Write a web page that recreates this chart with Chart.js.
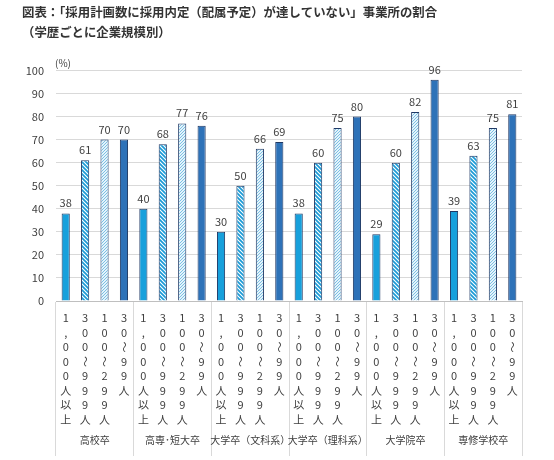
<!DOCTYPE html>
<html lang="ja">
<head>
<meta charset="utf-8">
<script src="https://cdn.jsdelivr.net/npm/chart.js@4.4.1/dist/chart.umd.min.js"></script>
<style>
html,body{margin:0;padding:0;background:#fff;}
#wrap{width:554px;height:460px;position:relative;}
</style>
</head>
<body>
<div id="wrap"><canvas id="c"></canvas></div>
<script>
const TITLE_LINES = ['図表：「採用計画数に採用内定（配属予定）が達していない」事業所の割合', '（学歴ごとに企業規模別）'];
const GROUPS = ['高校卒', '高専･短大卒', '大学卒（文科系）', '大学卒（理科系）', '大学院卒', '専修学校卒'];
const SIZE_LABELS = ['1,000人以上', '300～999人', '100～299人', '30～99人'];
const V_1000 = [38, 40, 30, 38, 29, 39];
const V_300  = [61, 68, 50, 60, 60, 63];
const V_100  = [70, 77, 66, 75, 82, 75];
const V_30   = [70, 76, 69, 80, 96, 81];
const UNIT = '(%)';

const FONT = '"Noto Sans CJK JP", "Noto Sans", sans-serif';
const TXT = '#404040';
const EDGE = '#1f3864';

// striped fills for the two middle series
function stripes(fg, bg, size, lw, down) {
  const c = document.createElement('canvas');
  c.width = c.height = size;
  const g = c.getContext('2d');
  g.fillStyle = bg; g.fillRect(0, 0, size, size);
  g.strokeStyle = fg; g.lineWidth = lw;
  g.beginPath();
  for (let k = -1; k <= 2; k++) {
    if (down) { g.moveTo(k*size-2, -2); g.lineTo(k*size+size+2, size+2); }
    else      { g.moveTo(k*size+2, -2); g.lineTo(k*size-size-2, size+2); }
  }
  g.stroke();
  return g.createPattern(c, 'repeat');
}

const labelPlugin = {
  id: 'barLabels',
  afterDatasetsDraw(chart) {
    const ctx = chart.ctx, area = chart.chartArea;
    ctx.save();
    ctx.fillStyle = TXT;
    ctx.textAlign = 'center';
    chart.data.datasets.forEach((ds, di) => {
      const meta = chart.getDatasetMeta(di);
      meta.data.forEach((bar, i) => {
        ctx.font = '11px ' + FONT;
        ctx.textBaseline = 'alphabetic';
        ctx.fillText(ds.data[i], bar.x, bar.y - 6);
        ctx.textBaseline = 'middle';
        [...SIZE_LABELS[di]].forEach((ch, k) => {
          const y = area.bottom + 17 + k*14.5;
          if (ch === '～') {
            ctx.save(); ctx.translate(bar.x, y); ctx.rotate(Math.PI/2);
            ctx.fillText(ch, 0, 0); ctx.restore();
          } else {
            ctx.fillText(ch, bar.x, y);
          }
        });
      });
    });
    ctx.font = '10px ' + FONT;
    ctx.textAlign = 'left';
    ctx.textBaseline = 'middle';
    ctx.fillText(UNIT, area.left - 1, area.top - 7);
    ctx.restore();
  }
};

const ctx = document.getElementById('c');
new Chart(ctx, {
  type: 'bar',
  data: {
    labels: GROUPS,
    datasets: [
      { label: SIZE_LABELS[0], data: V_1000, backgroundColor: '#17a0dc' },
      { label: SIZE_LABELS[1], data: V_300,  backgroundColor: stripes('#1a9ad6', '#fff', 4, 1.7, true) },
      { label: SIZE_LABELS[2], data: V_100,  backgroundColor: stripes('#7cc0e4', '#e4f3fb', 3, 1, false) },
      { label: SIZE_LABELS[3], data: V_30,   backgroundColor: '#2e72b8' }
    ].map(d => Object.assign(d, { borderColor: EDGE, borderWidth: 1, barPercentage: 0.42, categoryPercentage: 1 }))
  },
  options: {
    responsive: true, maintainAspectRatio: false, animation: false,
    layout: { padding: { left: 22, right: 32, bottom: 4, top: 0 } },
    plugins: {
      legend: { display: false },
      tooltip: { enabled: false },
      title: {
        display: true, align: 'start', text: TITLE_LINES, color: '#333',
        font: { family: FONT, size: 12.4, weight: 'bold', lineHeight: 1.55 },
        padding: { top: 3, bottom: 29 }
      }
    },
    scales: {
      x: {
        grid: { display: true, offset: true, drawOnChartArea: false, drawTicks: true, tickLength: 155, color: '#d9d9d9' },
        border: { display: true, color: '#bfbfbf' },
        ticks: { color: TXT, font: { family: FONT, size: 10 }, maxRotation: 0, autoSkip: false, padding: -22 },
        afterFit: s => { s.height = 155; }
      },
      y: {
        min: 0, max: 100,
        grid: { color: '#d9d9d9', drawTicks: false },
        border: { display: false },
        ticks: { stepSize: 10, color: TXT, font: { family: FONT, size: 11 }, padding: 12 },
        afterFit: s => { s.width = 34; }
      }
    }
  },
  plugins: [labelPlugin]
});
</script>
</body>
</html>
